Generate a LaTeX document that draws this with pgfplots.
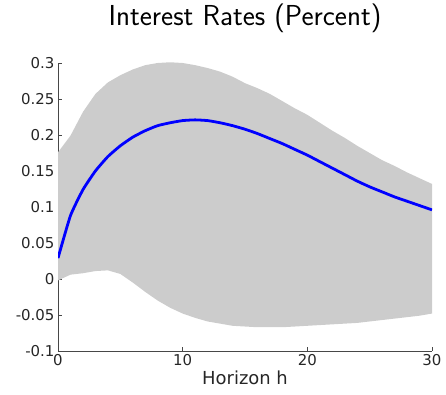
\documentclass[border=0pt]{standalone}
\usepackage{pgfplots}
\pgfplotsset{compat=1.18}
\usepackage{pgfplotstable}
\usepackage{fontspec}
\newfontfamily\dejavu{DejaVu Sans}
\usepgfplotslibrary{fillbetween}
\definecolor{axgray}{RGB}{38,38,38}
\definecolor{bandgray}{RGB}{204,204,204}
\pgfplotstableread{
h lo mid hi
0 -0.002 0.029 0.176
1 0.006 0.088 0.199
2 0.008 0.124 0.232
3 0.011 0.150 0.257
4 0.012 0.170 0.273
5 0.007 0.185 0.283
6 -0.005 0.197 0.291
7 -0.018 0.206 0.297
8 -0.030 0.213 0.300
9 -0.040 0.217 0.301
10 -0.048 0.220 0.300
11 -0.054 0.221 0.297
12 -0.059 0.220 0.293
13 -0.062 0.217 0.288
14 -0.065 0.213 0.281
15 -0.066 0.208 0.272
16 -0.067 0.202 0.265
17 -0.067 0.195 0.257
18 -0.067 0.188 0.247
19 -0.066 0.180 0.237
20 -0.065 0.172 0.228
21 -0.064 0.163 0.217
22 -0.063 0.154 0.206
23 -0.062 0.145 0.196
24 -0.061 0.136 0.185
25 -0.059 0.128 0.175
26 -0.057 0.121 0.165
27 -0.055 0.114 0.157
28 -0.053 0.108 0.148
29 -0.051 0.102 0.140
30 -0.048 0.096 0.132
}\irf
\begin{document}
\begin{tikzpicture}
\begin{axis}[
  scale only axis,
  width=374bp, height=288bp,
  xmin=0, xmax=30, ymin=-0.1, ymax=0.3,
  axis x line*=bottom, axis y line*=left,
  axis line style={axgray!85, line width=0.6pt},
  xtick={0,10,20,30},
  ytick={-0.1,-0.05,0,0.05,0.1,0.15,0.2,0.25,0.3},
  yticklabels={-0.1,-0.05,0,0.05,0.1,0.15,0.2,0.25,0.3},
  xticklabels={0,10,20,30},
  tick align=inside,
  major tick length=4bp,
  tick style={axgray!85, line width=0.5pt},
  ticklabel style={font=\dejavu\fontsize{15}{17}\selectfont, text=axgray},
  xlabel={\dejavu\fontsize{18}{20}\selectfont Horizon h},
  xlabel style={text=axgray, yshift=2bp},
  title={\sffamily\fontsize{29}{32}\selectfont Interest Rates (Percent)},
  title style={yshift=21bp},
  /pgf/number format/assume math mode=true,
  clip=true,
]
\addplot[name path=hi, draw=none, forget plot] table[x=h, y=hi] {\irf};
\addplot[name path=lo, draw=none, forget plot] table[x=h, y=lo] {\irf};
\addplot[bandgray, draw=none] fill between[of=hi and lo];
\addplot[blue, line width=2.8pt, smooth, tension=0.3] table[x=h, y=mid] {\irf};
\end{axis}
\pgfresetboundingbox
\path[use as bounding box] (current axis.south west) ++(-58bp,-44bp) rectangle ([xshift=14bp,yshift=63bp]current axis.north east);
\end{tikzpicture}
\end{document}
